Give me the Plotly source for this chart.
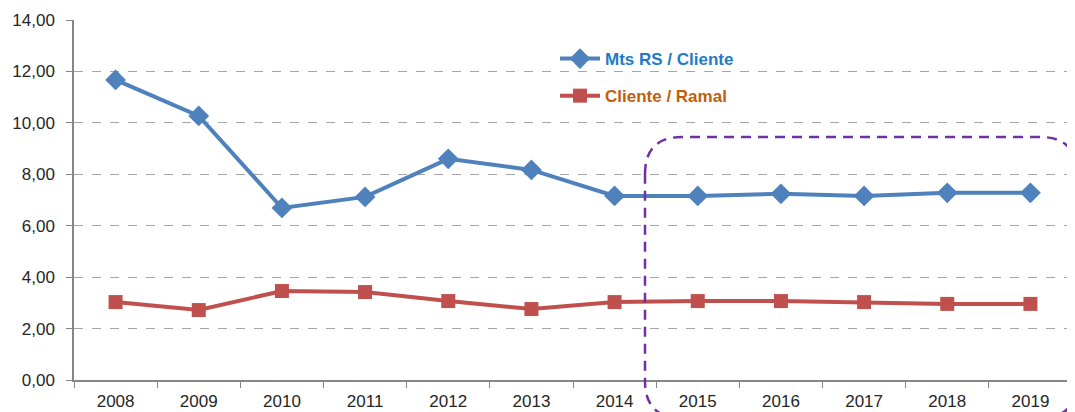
import plotly.graph_objects as go

years = ["2008", "2009", "2010", "2011", "2012", "2013", "2014", "2015", "2016", "2017", "2018", "2019"]
mts_rs_cliente = [11.67, 10.27, 6.69, 7.12, 8.60, 8.17, 7.16, 7.16, 7.24, 7.16, 7.28, 7.28]
cliente_ramal = [3.03, 2.72, 3.46, 3.42, 3.07, 2.76, 3.03, 3.07, 3.07, 3.03, 2.96, 2.96]
y_ticks = [0, 2, 4, 6, 8, 10, 12, 14]

OFF = 8  # page body margin
W, H = 1075 - OFF, 412 - OFF
ml, mr, mt, mb = 74 - OFF, 3, 20 - OFF, 32
pw, ph = W - ml - mr, H - mt - mb

def px(x):  # page pixel -> paper
    return (x - OFF - ml) / pw

def py(y):
    return (OFF + H - mb - y) / ph

fig = go.Figure()
fig.add_trace(go.Scatter(
    x=years, y=mts_rs_cliente, mode="lines+markers",
    name="<b><span style='color:#1F7BC8'>Mts RS / Cliente</span></b>",
    line=dict(color="#4F81BD", width=4),
    marker=dict(symbol="diamond", size=16, color="#4F81BD"),
    legendgroup="a",
))
fig.add_trace(go.Scatter(
    x=years, y=cliente_ramal, mode="lines+markers",
    name="<b><span style='color:#C0600C'>Cliente / Ramal</span></b>",
    line=dict(color="#C0504D", width=4),
    marker=dict(symbol="square", size=14, color="#C0504D"),
    legendgroup="b",
))

# rounded dashed rectangle highlight
L, R, T, B, r = 645, 1077, 137, 418, 37
path = (
    f"M {px(L)},{py(T + r)} "
    f"Q {px(L)},{py(T)} {px(L + r)},{py(T)} "
    f"L {px(R - r)},{py(T)} "
    f"Q {px(R)},{py(T)} {px(R)},{py(T + r)} "
    f"L {px(R)},{py(B - r)} "
    f"Q {px(R)},{py(B)} {px(R - r)},{py(B)} "
    f"L {px(L + r)},{py(B)} "
    f"Q {px(L)},{py(B)} {px(L)},{py(B - r)} Z"
)
fig.add_shape(type="path", path=path, xref="paper", yref="paper",
              line=dict(color="#7030A0", width=2.5, dash="10px,7px"), layer="above")

fig.update_layout(
    width=W, height=H,
    margin=dict(l=ml, r=mr, t=mt, b=mb, autoexpand=False),
    plot_bgcolor="white", paper_bgcolor="white",
    separators=",.",
    font=dict(family="Liberation Sans", size=17, color="#404040"),
    showlegend=True,
    legend=dict(
        x=px(555), y=py(41), xanchor="left", yanchor="top",
        bgcolor="rgba(0,0,0,0)", font=dict(size=17, family="Liberation Sans"),
        traceorder="grouped", tracegroupgap=12, itemwidth=40,
    ),
    xaxis=dict(
        type="category", range=[-0.5, 11.5],
        showline=True, linecolor="#868686", linewidth=1.5,
        ticks="outside", tickson="boundaries", ticklen=6, tickcolor="#868686",
        showgrid=False, tickfont=dict(size=17, color="#262626"),
        ticklabelstandoff=5,
    ),
    yaxis=dict(
        range=[0, 14], tickvals=y_ticks, tickformat=".2f",
        showline=True, linecolor="#868686", linewidth=1.5,
        ticks="outside", ticklen=6, tickcolor="#868686",
        showgrid=True, gridcolor="#A6A6A6", griddash="dash", gridwidth=1,
        zeroline=False, tickfont=dict(size=17, color="#262626"),
        ticklabelstandoff=8,
    ),
)

fig.write_html("out.html")
